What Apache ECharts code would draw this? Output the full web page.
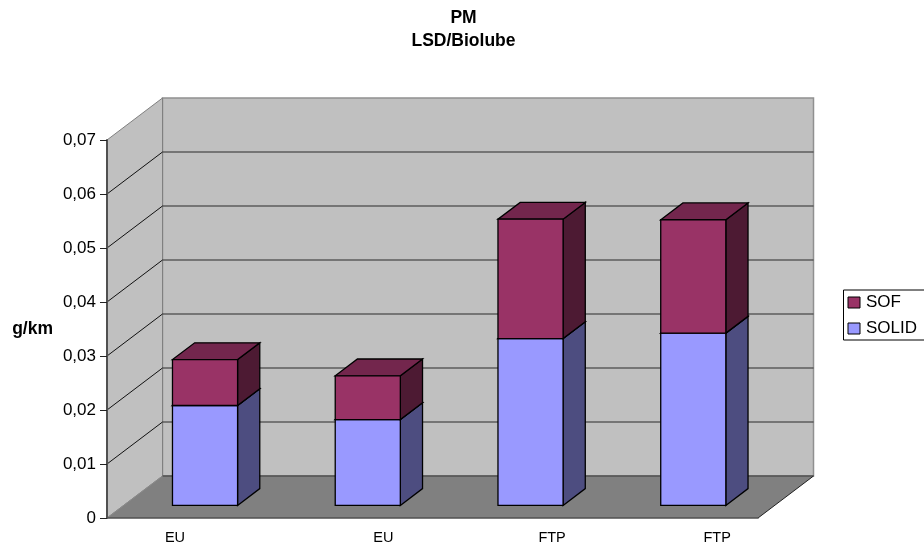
<!DOCTYPE html>
<html>
<head>
<meta charset="utf-8">
<script src="https://cdn.jsdelivr.net/npm/echarts@6/dist/echarts.min.js"></script>
<style>html,body{margin:0;padding:0;background:#fff;overflow:hidden}#chart{width:924px;height:550px}</style>
</head>
<body>
<div id="chart"></div>
<script>
// Particulate emissions per test cycle, split into soluble and solid fractions
const categories = ['EU', 'EU', 'FTP', 'FTP'];
const solid = [0.0185, 0.0159, 0.0309, 0.0319];
const sof = [0.0085, 0.0081, 0.0221, 0.0210];
const levels = [0, 0.01, 0.02, 0.03, 0.04, 0.05, 0.06, 0.07];

// Oblique projection of the box: full chart depth in pixels, bar placement within it
const DEPTH_X = 55.5, DEPTH_Y = 42;
const BAR_FRONT = 0.3, BAR_THICK = 0.4, BAR_WIDTH = 0.4;
const LABEL_SHIFT = [-13.4, 32.3, 38.2, 40.5];

const poly = (points, fill, stroke, width) => ({
  type: 'polygon',
  shape: { points },
  style: { fill, stroke: stroke || null, lineWidth: width === undefined ? 1 : width, lineJoin: 'miter' }
});
const line = (a, b, stroke, width) => ({
  type: 'line',
  shape: { x1: a[0], y1: a[1], x2: b[0], y2: b[1] },
  style: { stroke, lineWidth: width }
});

// Side wall, back wall and floor, plus the gridline at each level
function renderBox(params, api) {
  const value = api.value(0);
  const size = api.size([1, 0])[0];
  const a = api.coord([0, value]);
  a[0] -= size / 2;
  const b = [a[0] + size * categories.length, a[1]];
  const back = p => [p[0] + DEPTH_X, p[1] - DEPTH_Y];
  const children = [];
  if (params.dataIndex === 0) {
    const topA = api.coord([0, levels[levels.length - 1]]);
    topA[0] -= size / 2;
    const topB = [b[0], topA[1]];
    children.push(
      poly([back(a), back(b), back(topB), back(topA)], '#C0C0C0', '#909090', 1.5),
      poly([a, back(a), back(topA), topA], '#C0C0C0', '#808080', 1),
      poly([a, b, back(b), back(a)], '#808080', null),
      line(back(a), back(b), '#505050', 1.5),
      line(a, back(a), '#8a8a8a', 1),
      line(b, back(b), '#222222', 1)
    );
  } else if (params.dataIndex < levels.length - 1) {
    children.push(
      line(a, back(a), '#111111', 1),
      line(back(a), back(b), '#2a2a2a', 1)
    );
  }
  return { type: 'group', children };
}

// One stacked segment: front, top and right faces
function barRenderer(front, top, side) {
  return function (params, api) {
    const i = api.value(0);
    const size = api.size([1, 0])[0];
    const w = size * BAR_WIDTH;
    const shift = p => [p[0] + DEPTH_X * BAR_FRONT, p[1] - DEPTH_Y * BAR_FRONT];
    const lowC = shift(api.coord([i, api.value(1)]));
    const highC = shift(api.coord([i, api.value(2)]));
    const x0 = lowC[0] - w / 2, x1 = lowC[0] + w / 2;
    const dx = DEPTH_X * BAR_THICK, dy = DEPTH_Y * BAR_THICK;
    const y0 = lowC[1], y1 = highC[1];
    return {
      type: 'group',
      children: [
        poly([[x1, y0], [x1 + dx, y0 - dy], [x1 + dx, y1 - dy], [x1, y1]], side, '#000', 1.3),
        poly([[x0, y1], [x1, y1], [x1 + dx, y1 - dy], [x0 + dx, y1 - dy]], top, '#000', 1.3),
        poly([[x0, y0], [x1, y0], [x1, y1], [x0, y1]], front, '#000', 1.3)
      ]
    };
  };
}

// Category captions sit below the floor at their own offsets
function renderCaption(params, api) {
  const i = api.value(0);
  const p = api.coord([i, 0]);
  return {
    type: 'text',
    style: {
      x: p[0] + LABEL_SHIFT[i], y: p[1] + 19.5,
      text: categories[i],
      fill: '#000', font: '14.5px "Liberation Sans"',
      align: 'center', verticalAlign: 'middle'
    }
  };
}

const fontFamily = '"Liberation Sans", Arial, sans-serif';
const chart = echarts.init(document.getElementById('chart'), null, { renderer: 'canvas' });
chart.setOption({
  animation: false,
  backgroundColor: '#fff',
  title: {
    text: 'PM\nLSD/Biolube',
    left: 463.5, top: 7, padding: 0, textAlign: 'center',
    textStyle: { fontFamily, fontSize: 17.5, fontWeight: 'bold', color: '#000', lineHeight: 23 }
  },
  grid: { left: 107, top: 140, width: 651, height: 378, outerBoundsMode: 'none', containLabel: false },
  legend: {
    data: ['SOF', 'SOLID'],
    orient: 'vertical',
    left: 843.5, top: 290,
    padding: [4, 30, 3, 4],
    itemWidth: 12, itemHeight: 11, itemGap: 9,
    borderColor: '#000', borderWidth: 1,
    icon: 'rect',
    itemStyle: { borderColor: '#000', borderWidth: 1 },
    textStyle: { fontFamily, fontSize: 17, color: '#000', padding: [0, 0, 0, 1] }
  },
  xAxis: {
    type: 'category',
    data: categories,
    axisLine: { show: true, lineStyle: { color: '#505050', width: 1.5 } },
    axisTick: { show: false },
    axisLabel: { show: false },
    z: 5
  },
  yAxis: {
    type: 'value',
    min: 0, max: 0.07, interval: 0.01,
    name: 'g/km',
    nameLocation: 'middle',
    nameRotate: 0,
    nameGap: 54,
    nameTextStyle: { fontFamily, fontSize: 17.5, fontWeight: 'bold', color: '#000', padding: [3, 0, 0, 0] },
    axisLine: { show: true, lineStyle: { color: '#505050', width: 2 } },
    axisTick: { show: true, length: 7, lineStyle: { color: '#222', width: 1 } },
    axisLabel: {
      margin: 11, fontFamily, fontSize: 17, color: '#000',
      formatter: v => String(+v.toFixed(2)).replace('.', ',')
    },
    splitLine: { show: false },
    z: 5
  },
  series: [
    { type: 'custom', name: 'box', z: 1, data: levels.map(v => [v]), encode: { x: -1, y: 0 }, renderItem: renderBox, silent: true },
    {
      type: 'custom', name: 'SOLID', z: 2,
      itemStyle: { color: '#9999FF' },
      encode: { x: 0, y: [1, 2] },
      data: solid.map((v, i) => [i, 0, v]),
      renderItem: barRenderer('#9999FF', '#7373BF', '#4D4D80')
    },
    {
      type: 'custom', name: 'SOF', z: 3,
      itemStyle: { color: '#993366' },
      encode: { x: 0, y: [1, 2] },
      data: sof.map((v, i) => [i, solid[i], solid[i] + v]),
      renderItem: barRenderer('#993366', '#73264D', '#4D1A33')
    },
    { type: 'custom', name: 'captions', z: 4, data: categories.map((c, i) => [i]), encode: { x: 0 }, renderItem: renderCaption, silent: true }
  ]
});
</script>
</body>
</html>
